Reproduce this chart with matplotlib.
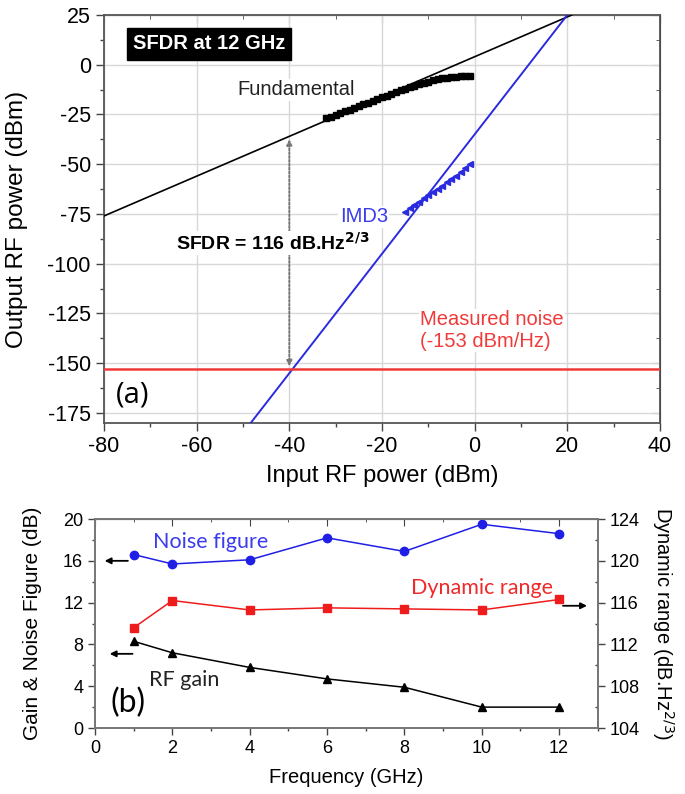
import numpy as np
import matplotlib.pyplot as plt

plt.rcParams['font.family'] = ['Liberation Sans', 'DejaVu Sans']
plt.rcParams['axes.unicode_minus'] = False

# (a) two-tone measurement at 12 GHz
fund_in = [-32, -31, -30, -29, -28, -27, -26, -25, -24, -23, -22, -21, -20, -19, -18, -17,
           -16, -15, -14, -13, -12, -11, -10, -9, -8, -7, -6, -5, -4, -3, -2, -1]
fund_out = [-27.0, -26.1, -25.3, -24.4, -23.5, -22.6, -21.7, -20.8, -20.0, -19.1, -18.2, -17.3,
            -16.4, -15.5, -14.6, -13.7, -12.9, -12.1, -11.3, -10.5, -9.8, -9.1, -8.5, -7.9,
            -7.3, -6.9, -6.5, -6.2, -6.0, -5.9, -5.8, -5.8]
imd_in = [-15, -14, -13, -12, -11, -10, -9, -8, -7, -6, -5, -4, -3, -2, -1]
imd_out = [-74.0, -72.0, -70.5, -69.0, -67.0, -65.5, -64.0, -62.5, -61.0, -59.0, -57.5, -56.0,
           -54.0, -52.0, -50.0]
fund_fit_x = [-80, 21]
fund_fit_y = [-76, 25]
imd_fit_x = [-48.33, 20]
imd_fit_y = [-180, 25]
noise_level = -153

# (b) vs frequency
freq = [1, 2, 4, 6, 8, 10, 12]
noise_fig = [16.6, 15.7, 16.1, 18.2, 16.9, 19.5, 18.6]
rf_gain = [8.3, 7.2, 5.8, 4.7, 3.9, 2.0, 2.0]
dyn_range = [113.6, 116.2, 115.3, 115.5, 115.4, 115.3, 116.3]

fig = plt.figure(figsize=(6.85, 7.94), dpi=100)

# ---------- panel (a) ----------
ax = fig.add_axes([0.1518, 0.4673, 0.8117, 0.5139])
ax.plot(fund_fit_x, fund_fit_y, color='black', lw=1.2, zorder=3)
ax.plot(imd_fit_x, imd_fit_y, color='#2a2ae0', lw=1.4, zorder=3)
ax.axhline(noise_level, color='#f03a3a', lw=1.8, zorder=3)
ax.plot(fund_in, fund_out, 's', color='black', ms=4.5, zorder=4)
ax.plot(imd_in, imd_out, '<', color='#2a2ae0', ms=4, zorder=4)

ax.annotate('', xy=(-40, -37.5), xytext=(-40, -151.5),
            arrowprops=dict(arrowstyle='<|-|>', ls=(0, (1, 1)), color='#777777',
                            lw=1.4, mutation_scale=8, shrinkA=0, shrinkB=0), zorder=2)

ax.text(-57.3, 10.4, 'SFDR at 12 GHz', color='white', fontsize=14.5, fontweight='bold',
        ha='center', va='center',
        bbox=dict(facecolor='black', edgecolor='black', boxstyle='square,pad=0.3'))
ax.text(-38.5, -12.7, 'Fundamental', fontsize=14.5, color='#222222', ha='center', va='center',
        bbox=dict(facecolor='white', edgecolor='none', pad=1))
ax.text(-23.9, -76.5, 'IMD3', fontsize=14.5, color='#3a3af0', ha='center', va='center',
        bbox=dict(facecolor='white', edgecolor='none', pad=1))
ax.text(-43.5, -89.5, r'SFDR = 116 dB.Hz$^{\mathbf{2/3}}$', fontsize=14, fontweight='bold',
        ha='center', va='center', bbox=dict(facecolor='white', edgecolor='none', pad=1), zorder=5)
ax.text(-11.8, -133.5, 'Measured noise\n(-153 dBm/Hz)', fontsize=14.5, color='#f03a3a',
        ha='left', va='center', linespacing=1.15,
        bbox=dict(facecolor='white', edgecolor='none', pad=1))
ax.text(-77.5, -166, '(a)', fontsize=21, family=['Open Sans', 'DejaVu Sans'],
        ha='left', va='center')

ax.set_xlim(-80, 40)
ax.set_ylim(-180, 25)
ax.set_xticks(np.arange(-80, 41, 20))
ax.set_yticks(np.arange(-175, 26, 25))
ax.set_xticks(np.arange(-80, 41, 10), minor=True)
ax.set_yticks(np.arange(-175, 26, 12.5), minor=True)
ax.grid(True, which='major', color='#d8d8d8', lw=1.0, zorder=0)
ax.set_axisbelow(True)
ax.tick_params(which='major', direction='out', length=6, width=1, labelsize=15.5, color='#444444')
ax.tick_params(which='minor', direction='out', length=3, width=1, color='#444444')
for s in ax.spines.values():
    s.set_color('#555555')
    s.set_linewidth(1.3)
top = ax.secondary_xaxis('top')
top.set_xticks(np.arange(-80, 41, 20))
top.set_xticks(np.arange(-80, 41, 10), minor=True)
top.tick_params(which='both', direction='in', labeltop=False, color='#444444')
top.tick_params(which='major', length=6)
top.tick_params(which='minor', length=3)
right = ax.secondary_yaxis('right')
right.set_yticks(np.arange(-175, 26, 25))
right.set_yticks(np.arange(-175, 26, 12.5), minor=True)
right.tick_params(which='both', direction='in', labelright=False, color='#444444')
right.tick_params(which='major', length=6)
right.tick_params(which='minor', length=3)
ax.set_xlabel('Input RF power (dBm)', fontsize=17)
ax.set_ylabel('Output RF power (dBm)', fontsize=17.5)
ax.xaxis.set_label_coords(0.5, -0.103)
ax.yaxis.set_label_coords(-0.137, 0.5)

# ---------- panel (b) ----------
bx = fig.add_axes([0.1387, 0.0831, 0.734, 0.2632])
bx2 = bx.twinx()
bx.plot(freq, noise_fig, '-o', color='#1f1fe6', lw=1.1, ms=6)
bx.plot(freq, rf_gain, '-^', color='black', lw=1.1, ms=6)
bx2.plot(freq, dyn_range, '-s', color='#ee1c1c', lw=1.1, ms=5.5)

bx.annotate('', xy=(0.25, 16), xytext=(0.85, 16),
            arrowprops=dict(arrowstyle='-|>', color='black', lw=1.3, mutation_scale=9,
                            shrinkA=0, shrinkB=0))
bx.annotate('', xy=(0.38, 7.1), xytext=(0.97, 7.1),
            arrowprops=dict(arrowstyle='-|>', color='black', lw=1.3, mutation_scale=9,
                            shrinkA=0, shrinkB=0))
bx2.annotate('', xy=(12.72, 115.7), xytext=(12.1, 115.7),
             arrowprops=dict(arrowstyle='-|>', color='black', lw=1.3, mutation_scale=9,
                             shrinkA=0, shrinkB=0))

lab_font = ['Lato', 'DejaVu Sans']
bx.text(2.98, 17.8, 'Noise figure', fontsize=15.5, color='#3b3bf0', ha='center', va='center',
        family=lab_font)
bx.text(10.0, 13.4, 'Dynamic range', fontsize=15.5, color='#ee2a2a', ha='center', va='center',
        family=lab_font)
bx.text(2.3, 4.6, 'RF gain', fontsize=15.5, color='#222222', ha='center', va='center',
        family=lab_font)
bx.text(0.85, 2.4, '(b)', fontsize=23, ha='center', va='center', family=lab_font)

bx.set_xlim(0, 13)
bx.set_ylim(0, 20)
bx2.set_ylim(104, 124)
bx.set_xticks(np.arange(0, 13, 2))
bx.set_xticks(np.arange(0, 14, 1), minor=True)
bx.set_yticks(np.arange(0, 21, 4))
bx.set_yticks(np.arange(0, 21, 2), minor=True)
bx2.set_yticks(np.arange(104, 125, 4))
bx2.set_yticks(np.arange(104, 125, 2), minor=True)
bx.tick_params(which='major', direction='out', length=5, width=1, labelsize=13, color='#444444')
bx.tick_params(which='minor', direction='out', length=2.5, width=1, color='#444444')
bx2.tick_params(which='major', direction='out', length=5, width=1, labelsize=13, color='#444444')
bx2.tick_params(which='minor', direction='in', length=2.5, width=1, color='#444444')
btop = bx.secondary_xaxis('top')
btop.set_xticks(np.arange(0, 13, 2))
btop.set_xticks(np.arange(0, 14, 1), minor=True)
btop.tick_params(which='both', direction='in', labeltop=False, color='#444444')
btop.tick_params(which='major', length=5)
btop.tick_params(which='minor', length=2.5)
for a in (bx, bx2):
    for s in a.spines.values():
        s.set_color('#777777')
        s.set_linewidth(1.3)
bx.set_xlabel('Frequency (GHz)', fontsize=14.5)
bx.set_ylabel('Gain & Noise Figure (dB)', fontsize=15)
bx2.set_ylabel(r'Dynamic range (dB.Hz$^{2/3}$)', fontsize=14.5, rotation=270, va='center')
bx.xaxis.set_label_coords(0.5, -0.19)
bx.yaxis.set_label_coords(-0.105, 0.5)
bx2.yaxis.set_label_coords(1.13, 0.5)

fig.savefig('out.png', dpi=100)
